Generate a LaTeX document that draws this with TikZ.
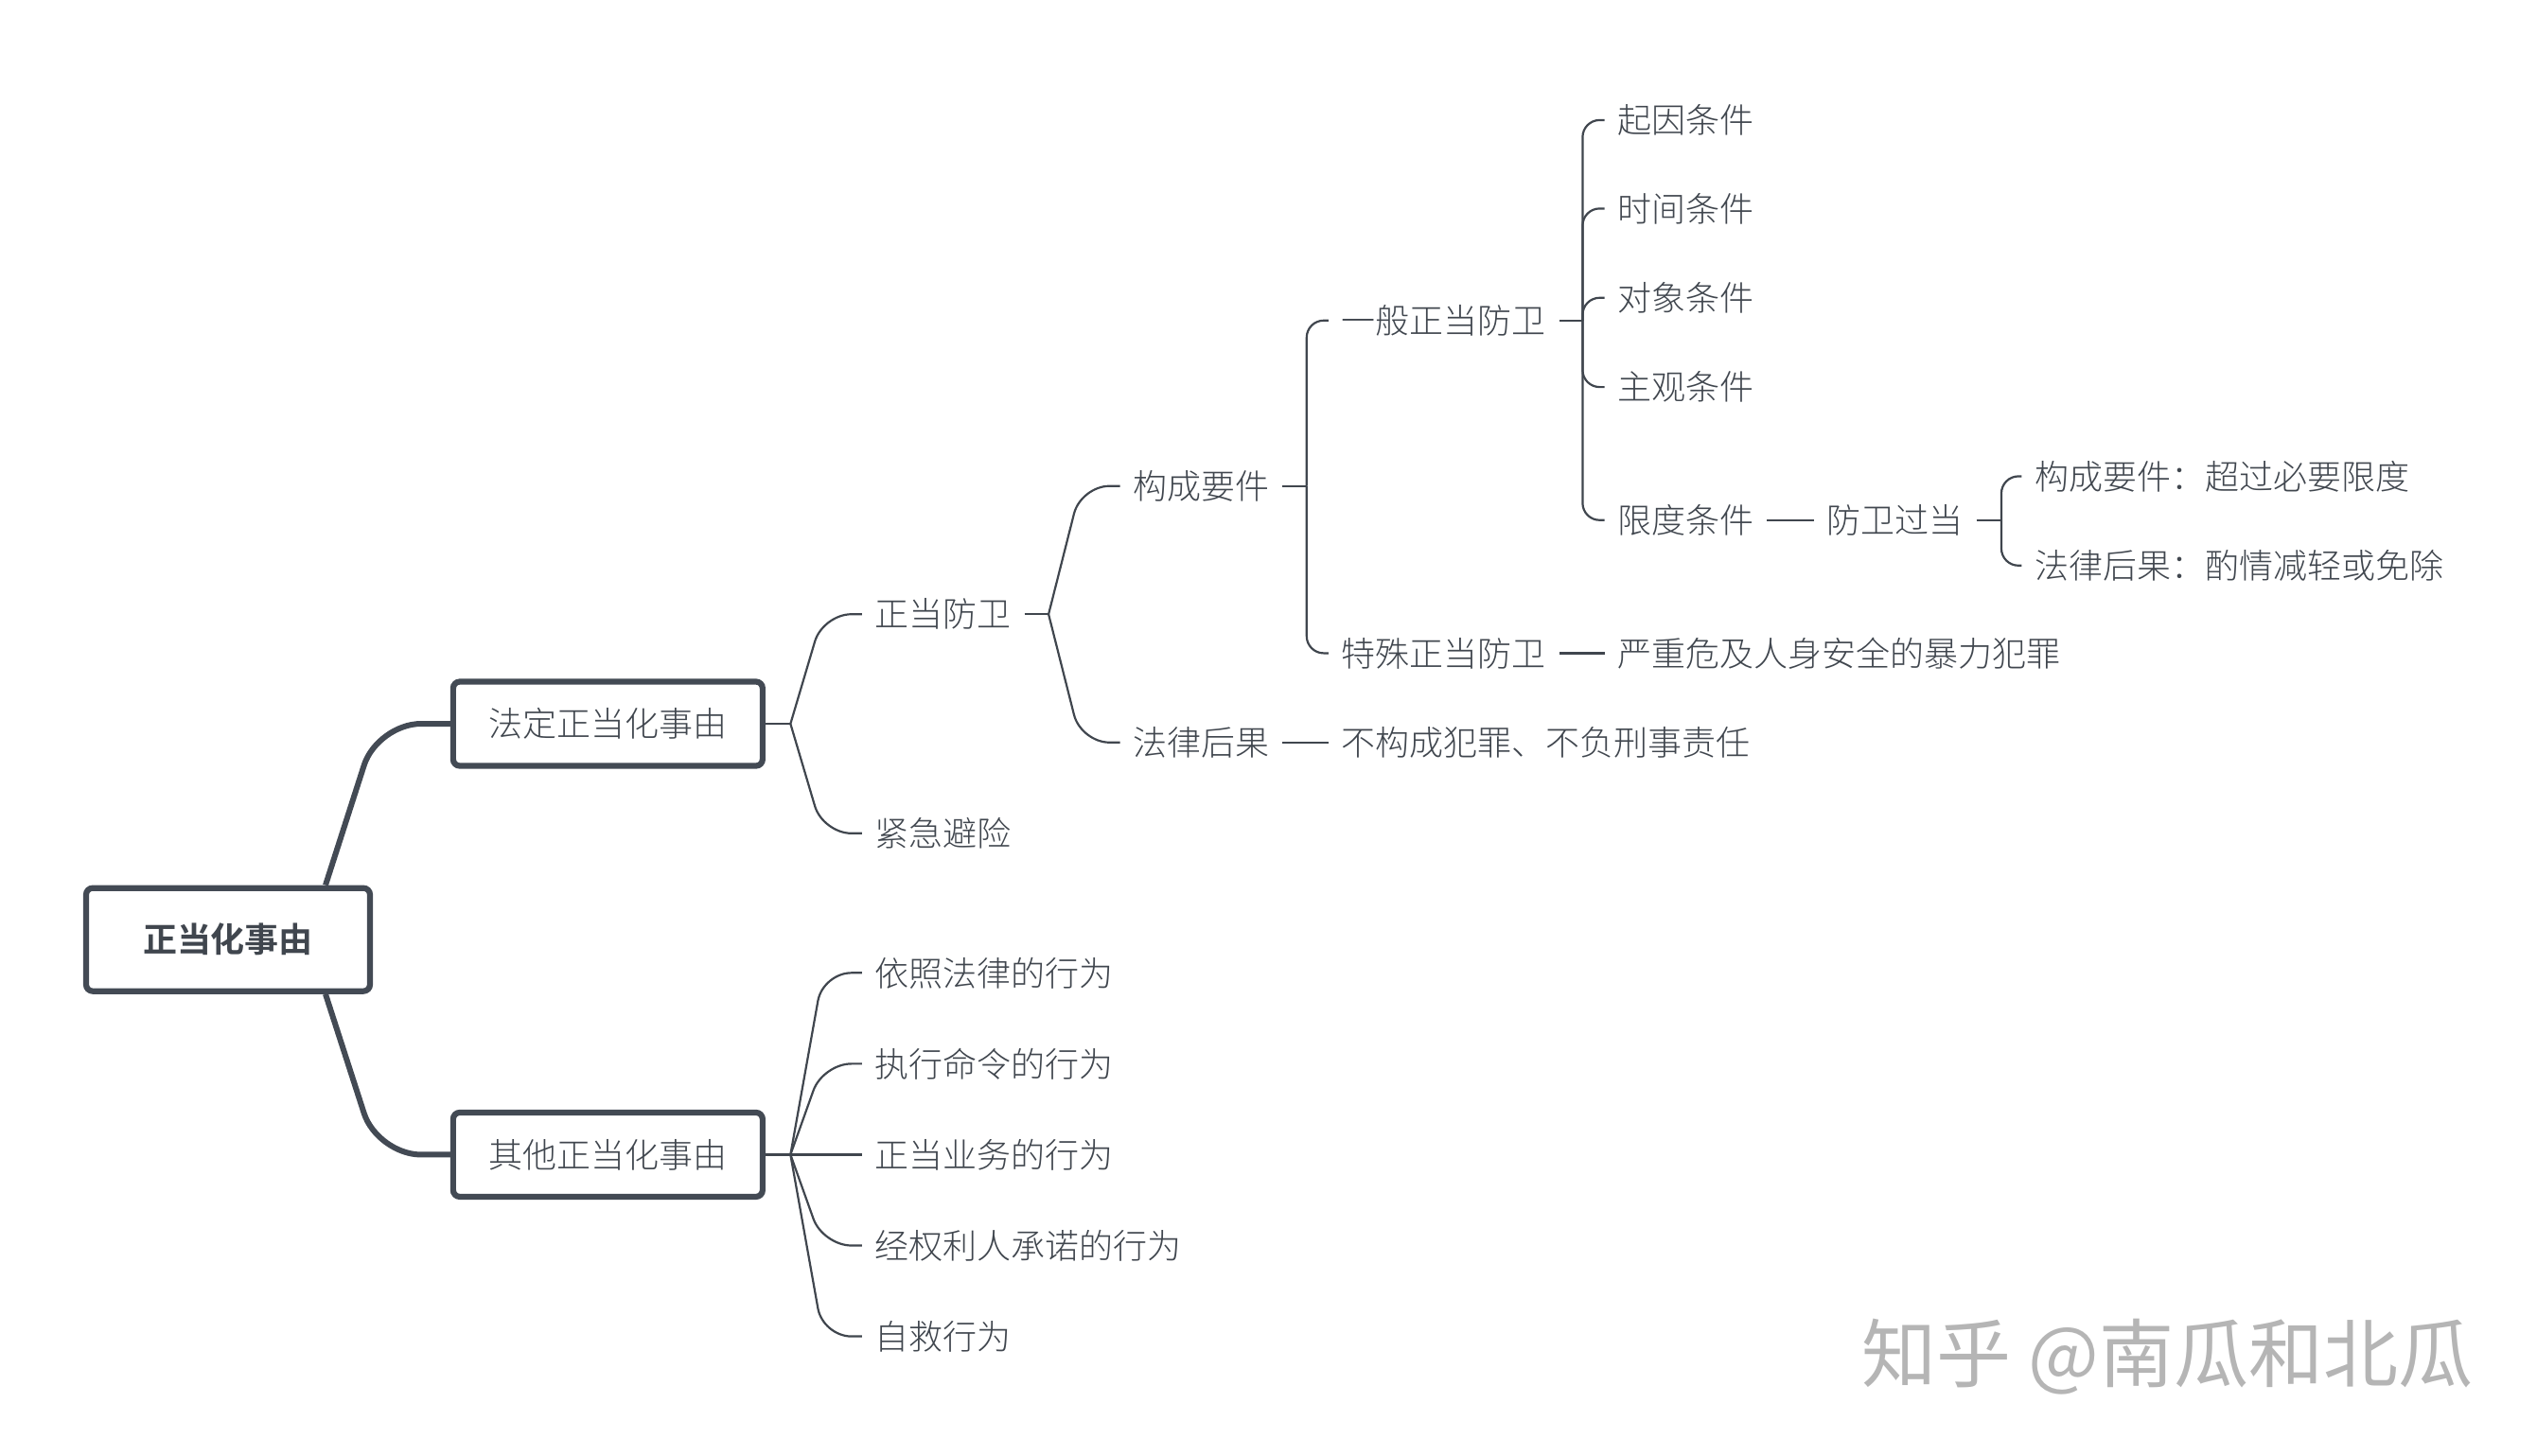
\documentclass[tikz,border=0pt]{standalone}
\usepackage{fontspec}
\setmainfont[UprightFont={* Light},BoldFont={* Bold}]{Noto Sans CJK SC}
\newfontfamily\markfont{Noto Sans CJK SC}
\usetikzlibrary{calc}
\definecolor{ink}{HTML}{40464E}
\definecolor{edge}{HTML}{434A54}
\definecolor{mark}{HTML}{B5B5B5}

\begin{document}
\begin{tikzpicture}
      [x = 1.7153pt,
      y = -1.7153pt,
      box/.style= {
         draw = edge,
         line width = 6.2pt,
         rounded corners = 7pt,
         text = ink,
         font = \fontsize{36pt}{40pt}\selectfont,
         minimum width = 327pt,
         minimum height = 89pt
      },
      rootbox/.style= {
         box,
         font = \fontsize{36pt}{40pt}\selectfont\bfseries,
         minimum width = 300pt,
         minimum height = 109pt
      },
      leaf/.style= {
         anchor = west,
         text = ink,
         inner xsep = 13.7pt,
         inner ysep = 0pt,
         font = \fontsize{36pt}{40pt}\selectfont
      },
      stem/.style={draw = edge, line width = 6pt, rounded corners = 46pt},
      twig/.style={draw = ink, line width = 2.2pt},
      bent/.style={twig, rounded corners = 30pt},
      spine/.style={twig, rounded corners = 18pt}]

      \useasboundingbox (2, 1.5) rectangle (1565, 898.5);

      \node[rootbox] (root) at (142.5, 580.5) {正当化事由};
      \node[box] (fading) at (376.5, 447.5) {法定正当化事由};
      \node[box] (qita) at (376.5, 713) {其他正当化事由};

      \node[leaf] (zdfw) at (533, 380) {正当防卫};
      \node[leaf] (jjbx) at (533, 515) {紧急避险};
      \node[leaf] (gcyj) at (692, 301) {构成要件};
      \node[leaf] (flhg) at (692, 459) {法律后果};
      \node[leaf] (ybfw) at (820.5, 199) {一般正当防卫};
      \node[leaf] (tsfw) at (820.5, 404) {特殊正当防卫};
      \node[leaf] (bgc) at (820.5, 459) {不构成犯罪、不负刑事责任};
      \node[leaf] (qytj) at (990.5, 75.5) {起因条件};
      \node[leaf] (sjtj) at (990.5, 130) {时间条件};
      \node[leaf] (dxtj) at (990.5, 185) {对象条件};
      \node[leaf] (zgtj) at (990.5, 240) {主观条件};
      \node[leaf] (xdtj) at (990.5, 322) {限度条件};
      \node[leaf] (yzwj) at (990.5, 404) {严重危及人身安全的暴力犯罪};
      \node[leaf] (fwgd) at (1119.5, 322) {防卫过当};
      \node[leaf] (gdyj) at (1247.5, 295) {构成要件：超过必要限度};
      \node[leaf] (gdhg) at (1247.5, 350) {法律后果：酌情减轻或免除};
      \node[leaf] (yzfl) at (533, 601) {依照法律的行为};
      \node[leaf] (zxml) at (533, 657) {执行命令的行为};
      \node[leaf] (zdyw) at (533, 713) {正当业务的行为};
      \node[leaf] (jqlr) at (533, 769) {经权利人承诺的行为};
      \node[leaf] (zjxw) at (533, 825) {自救行为};

      \node[anchor = west, inner sep = 0pt, text = mark,
         font = \fontsize{79pt}{82pt}\markfont] (zhihu) at (1149, 837.5) {知乎 @南瓜和北瓜};

      \coordinate (jfd) at (489, 447.5);
      \coordinate (jqt) at (489, 713);
      \coordinate (jzd) at (648, 380);
      \coordinate (jgc) at (807, 301);
      \coordinate (jyb) at (977, 199);
      \coordinate (jgd) at (1235, 322);

      \draw[stem] ([xshift = 103pt]root.north) -- (234.5, 447.5) -- (fading.west);
      \draw[stem] ([xshift = 103pt]root.south) -- (234.5, 713) -- (qita.west);

      \draw[twig] (fading.east) -- (jfd);
      \draw[twig] (qita.east) -- (jqt);
      \draw[twig] (zdfw.east) -- (jzd);
      \draw[twig] (gcyj.east) -- (jgc);
      \draw[twig] (ybfw.east) -- (jyb);
      \draw[twig] (fwgd.east) -- (jgd);

      \foreach \kid in {zdfw, jjbx}
         \draw[bent] (jfd) -- ($(\kid.west) + (-24, 0)$) -- (\kid.west);
      \foreach \kid in {gcyj, flhg}
         \draw[bent] (jzd) -- ($(\kid.west) + (-24, 0)$) -- (\kid.west);
      \foreach \kid in {yzfl, zxml, jqlr, zjxw}
         \draw[bent] (jqt) -- ($(\kid.west) + (-24, 0)$) -- (\kid.west);
      \draw[twig] (jqt) -- (zdyw.west);

      \foreach \kid in {ybfw, tsfw}
         \draw[spine] (jgc) |- (\kid.west);
      \foreach \kid in {qytj, sjtj, dxtj, zgtj, xdtj}
         \draw[spine] (jyb) |- (\kid.west);
      \foreach \kid in {gdyj, gdhg}
         \draw[spine] (jgd) |- (\kid.west);

      \draw[twig] (flhg.east) -- (bgc.west);
      \draw[twig] (tsfw.east) -- (yzwj.west);
      \draw[twig] (xdtj.east) -- (fwgd.west);

   \end{tikzpicture}
\end{document}
